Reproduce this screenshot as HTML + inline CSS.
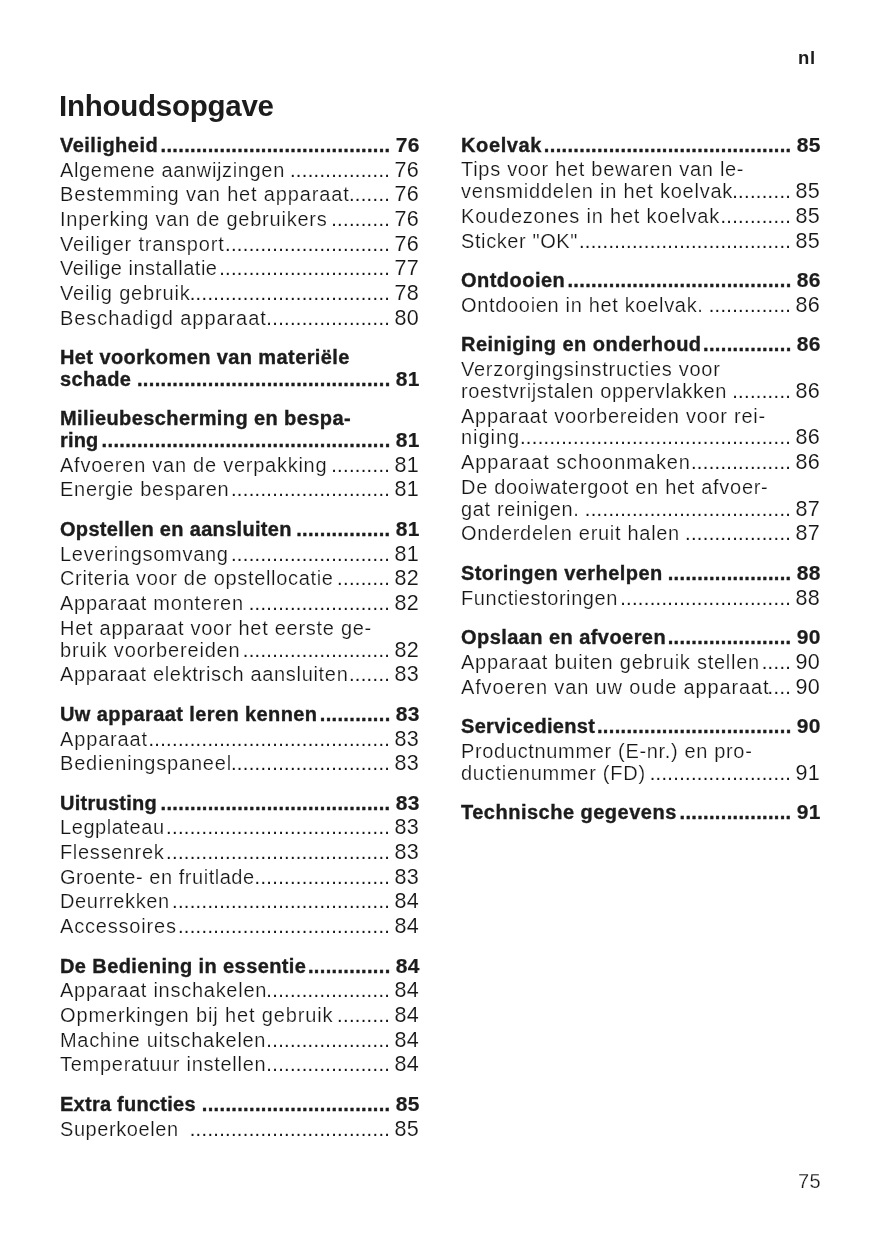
<!DOCTYPE html>
<html lang="nl">
<head>
<meta charset="utf-8">
<title>Inhoudsopgave</title>
<style>
html,body{margin:0;padding:0;background:#fff;}
body{width:875px;height:1241px;position:relative;overflow:hidden;font-family:"Liberation Sans",Arial,Helvetica,sans-serif;color:#161616;}
.nl{position:absolute;left:798px;top:48px;font-size:18.5px;line-height:19px;font-weight:bold;color:#1c1c1c;letter-spacing:0.7px;}
h1{position:absolute;left:59.2px;top:89px;margin:0;font-size:29.5px;letter-spacing:-0.25px;line-height:34px;font-weight:bold;color:#1c1c1c;white-space:nowrap;}
.pn{-webkit-text-stroke:0.25px #fff;position:absolute;right:54.5px;top:1170px;font-size:20px;line-height:22px;letter-spacing:0.5px;margin-right:-0.5px;}
.col{-webkit-text-stroke:0.2px #fff;position:absolute;width:359.0px;font-size:20.0px;line-height:22px;letter-spacing:0.65px;}
.c1{left:59.5px;top:0;}
.c2{left:461.0px;top:0;}
.r,.w{position:absolute;left:0;width:359.0px;height:22px;line-height:22px;white-space:nowrap;}
.r{display:flex;align-items:baseline;}
.d{flex:1 1 0;min-width:0;display:flex;justify-content:flex-end;overflow:visible;letter-spacing:0.34px;-webkit-text-stroke:0;}
.b .d{-webkit-text-stroke:0.35px #1c1c1c;}
.n{flex:0 0 auto;font-size:21.5px;-webkit-text-stroke:0.1px #fff;letter-spacing:0.2px;margin-right:0.2px;margin-left:4.3px;}
.col,h1,.nl,.pn{will-change:transform;}
.b{-webkit-text-stroke:0.35px #1c1c1c;font-weight:bold;letter-spacing:0.4px;color:#1c1c1c;}
.b .n{font-size:21px;-webkit-text-stroke:0.2px #1c1c1c;margin-left:5.3px;letter-spacing:0.2px;margin-right:-0.6000000000000001px;}
</style>
</head>
<body>
<div class="nl">nl</div>
<h1>Inhoudsopgave</h1>
<div class="col c1">
<div class="r b" style="top:134px"><span class="t" style="letter-spacing:0.478px">Veiligheid</span><span class="d">.......................................</span><span class="n">76</span></div>
<div class="r" style="top:159px"><span class="t">Algemene aanwijzingen</span><span class="d">.................</span><span class="n">76</span></div>
<div class="r" style="top:183px"><span class="t" style="letter-spacing:0.842px">Bestemming van het apparaat</span><span class="d">.......</span><span class="n">76</span></div>
<div class="r" style="top:208px"><span class="t" style="letter-spacing:0.765px">Inperking van de gebruikers</span><span class="d">..........</span><span class="n">76</span></div>
<div class="r" style="top:233px"><span class="t" style="letter-spacing:0.803px">Veiliger transport</span><span class="d">............................</span><span class="n">76</span></div>
<div class="r" style="top:257px"><span class="t" style="letter-spacing:0.506px">Veilige installatie</span><span class="d">.............................</span><span class="n">77</span></div>
<div class="r" style="top:282px"><span class="t" style="letter-spacing:0.827px">Veilig gebruik</span><span class="d">..................................</span><span class="n">78</span></div>
<div class="r" style="top:307px"><span class="t" style="letter-spacing:0.928px">Beschadigd apparaat</span><span class="d">.....................</span><span class="n">80</span></div>
<div class="w b" style="top:346px">Het voorkomen van materiële</div>
<div class="r b" style="top:368px"><span class="t">schade</span><span class="d">...........................................</span><span class="n">81</span></div>
<div class="w b" style="top:407px;letter-spacing:0.404px">Milieubescherming en bespa-</div>
<div class="r b" style="top:429px"><span class="t" style="letter-spacing:0.167px">ring</span><span class="d">.................................................</span><span class="n">81</span></div>
<div class="r" style="top:454px"><span class="t" style="letter-spacing:0.746px">Afvoeren van de verpakking</span><span class="d">..........</span><span class="n">81</span></div>
<div class="r" style="top:478px"><span class="t" style="letter-spacing:0.717px">Energie besparen</span><span class="d">...........................</span><span class="n">81</span></div>
<div class="r b" style="top:518px"><span class="t" style="letter-spacing:0.318px">Opstellen en aansluiten</span><span class="d">................</span><span class="n">81</span></div>
<div class="r" style="top:543px"><span class="t" style="letter-spacing:0.721px">Leveringsomvang</span><span class="d">...........................</span><span class="n">81</span></div>
<div class="r" style="top:567px"><span class="t" style="letter-spacing:0.671px">Criteria voor de opstellocatie</span><span class="d">.........</span><span class="n">82</span></div>
<div class="r" style="top:592px"><span class="t" style="letter-spacing:0.738px">Apparaat monteren</span><span class="d">........................</span><span class="n">82</span></div>
<div class="w" style="top:617px;letter-spacing:0.715px">Het apparaat voor het eerste ge-</div>
<div class="r" style="top:639px"><span class="t" style="letter-spacing:0.826px">bruik voorbereiden</span><span class="d">.........................</span><span class="n">82</span></div>
<div class="r" style="top:663px"><span class="t" style="letter-spacing:0.684px">Apparaat elektrisch aansluiten</span><span class="d">.......</span><span class="n">83</span></div>
<div class="r b" style="top:703px"><span class="t">Uw apparaat leren kennen</span><span class="d">............</span><span class="n">83</span></div>
<div class="r" style="top:728px"><span class="t" style="letter-spacing:0.85px">Apparaat</span><span class="d">.........................................</span><span class="n">83</span></div>
<div class="r" style="top:752px"><span class="t" style="letter-spacing:0.81px">Bedieningspaneel</span><span class="d">...........................</span><span class="n">83</span></div>
<div class="r b" style="top:792px"><span class="t" style="letter-spacing:0.256px">Uitrusting</span><span class="d">.......................................</span><span class="n">83</span></div>
<div class="r" style="top:816px"><span class="t" style="letter-spacing:0.572px">Legplateau</span><span class="d">......................................</span><span class="n">83</span></div>
<div class="r" style="top:841px"><span class="t">Flessenrek</span><span class="d">......................................</span><span class="n">83</span></div>
<div class="r" style="top:866px"><span class="t" style="letter-spacing:0.535px">Groente- en fruitlade</span><span class="d">.......................</span><span class="n">83</span></div>
<div class="r" style="top:890px"><span class="t">Deurrekken</span><span class="d">.....................................</span><span class="n">84</span></div>
<div class="r" style="top:915px"><span class="t" style="letter-spacing:0.81px">Accessoires</span><span class="d">....................................</span><span class="n">84</span></div>
<div class="r b" style="top:955px"><span class="t">De Bediening in essentie</span><span class="d">..............</span><span class="n">84</span></div>
<div class="r" style="top:979px"><span class="t" style="letter-spacing:0.739px">Apparaat inschakelen</span><span class="d">.....................</span><span class="n">84</span></div>
<div class="r" style="top:1004px"><span class="t" style="letter-spacing:0.862px">Opmerkingen bij het gebruik</span><span class="d">.........</span><span class="n">84</span></div>
<div class="r" style="top:1029px"><span class="t" style="letter-spacing:0.692px">Machine uitschakelen</span><span class="d">.....................</span><span class="n">84</span></div>
<div class="r" style="top:1053px"><span class="t" style="letter-spacing:0.72px">Temperatuur instellen</span><span class="d">.....................</span><span class="n">84</span></div>
<div class="r b" style="top:1093px"><span class="t" style="letter-spacing:0.254px">Extra functies</span><span class="d">................................</span><span class="n">85</span></div>
<div class="r" style="top:1118px"><span class="t" style="letter-spacing:0.58px">Superkoelen</span><span class="d">..................................</span><span class="n">85</span></div>
</div>
<div class="col c2">
<div class="r b" style="top:134px"><span class="t" style="letter-spacing:0.617px">Koelvak</span><span class="d">..........................................</span><span class="n">85</span></div>
<div class="w" style="top:158px;letter-spacing:0.707px">Tips voor het bewaren van le-</div>
<div class="r" style="top:180px"><span class="t" style="letter-spacing:0.773px">vensmiddelen in het koelvak</span><span class="d">..........</span><span class="n">85</span></div>
<div class="r" style="top:205px"><span class="t" style="letter-spacing:0.796px">Koudezones in het koelvak</span><span class="d">............</span><span class="n">85</span></div>
<div class="r" style="top:230px"><span class="t" style="letter-spacing:0.6px">Sticker "OK"</span><span class="d">....................................</span><span class="n">85</span></div>
<div class="r b" style="top:269px"><span class="t" style="letter-spacing:0.475px">Ontdooien</span><span class="d">......................................</span><span class="n">86</span></div>
<div class="r" style="top:294px"><span class="t" style="letter-spacing:0.675px">Ontdooien in het koelvak.</span><span class="d">..............</span><span class="n">86</span></div>
<div class="r b" style="top:333px"><span class="t" style="letter-spacing:0.481px">Reiniging en onderhoud</span><span class="d">...............</span><span class="n">86</span></div>
<div class="w" style="top:358px;letter-spacing:0.72px">Verzorgingsinstructies voor</div>
<div class="r" style="top:380px"><span class="t">roestvrijstalen oppervlakken</span><span class="d">..........</span><span class="n">86</span></div>
<div class="w" style="top:405px;letter-spacing:0.723px">Apparaat voorbereiden voor rei-</div>
<div class="r" style="top:426px"><span class="t" style="letter-spacing:0.95px">niging</span><span class="d">..............................................</span><span class="n">86</span></div>
<div class="r" style="top:451px"><span class="t" style="letter-spacing:0.934px">Apparaat schoonmaken</span><span class="d">.................</span><span class="n">86</span></div>
<div class="w" style="top:476px;letter-spacing:0.7px">De dooiwatergoot en het afvoer-</div>
<div class="r" style="top:498px"><span class="t">gat reinigen.</span><span class="d">...................................</span><span class="n">87</span></div>
<div class="r" style="top:522px"><span class="t" style="letter-spacing:0.702px">Onderdelen eruit halen</span><span class="d">..................</span><span class="n">87</span></div>
<div class="r b" style="top:562px"><span class="t" style="letter-spacing:0.433px">Storingen verhelpen</span><span class="d">.....................</span><span class="n">88</span></div>
<div class="r" style="top:587px"><span class="t" style="letter-spacing:0.563px">Functiestoringen</span><span class="d">.............................</span><span class="n">88</span></div>
<div class="r b" style="top:626px"><span class="t" style="letter-spacing:0.439px">Opslaan en afvoeren</span><span class="d">.....................</span><span class="n">90</span></div>
<div class="r" style="top:651px"><span class="t" style="letter-spacing:0.75px">Apparaat buiten gebruik stellen</span><span class="d">.....</span><span class="n">90</span></div>
<div class="r" style="top:676px"><span class="t" style="letter-spacing:0.857px">Afvoeren van uw oude apparaat</span><span class="d">....</span><span class="n">90</span></div>
<div class="r b" style="top:715px"><span class="t" style="letter-spacing:0.325px">Servicedienst</span><span class="d">.................................</span><span class="n">90</span></div>
<div class="w" style="top:740px;letter-spacing:0.66px">Productnummer (E-nr.) en pro-</div>
<div class="r" style="top:762px"><span class="t" style="letter-spacing:0.738px">ductienummer (FD)</span><span class="d">........................</span><span class="n">91</span></div>
<div class="r b" style="top:801px"><span class="t" style="letter-spacing:0.494px">Technische gegevens</span><span class="d">...................</span><span class="n">91</span></div>
</div>
<div class="pn">75</div>
</body>
</html>
